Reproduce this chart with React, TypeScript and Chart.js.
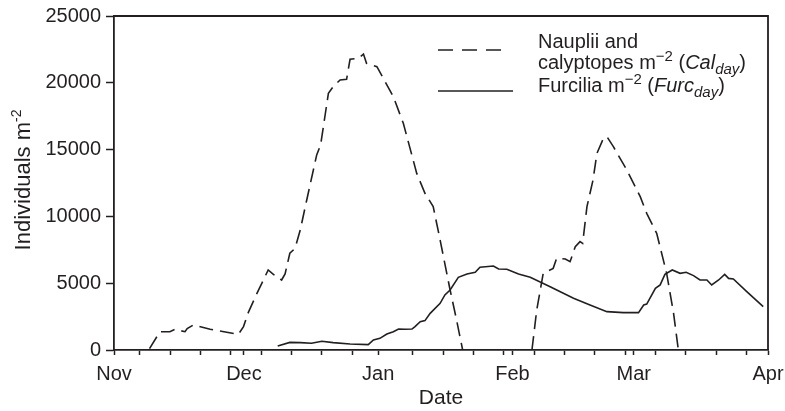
import React, { useEffect, useRef } from "react";
import { Chart, registerables } from "chart.js";

Chart.register(...registerables);

// ---- Data (x = days since 1 Nov) ----
const monthLabels = ["Nov", "Dec", "Jan", "Feb", "Mar", "Apr"];
const monthStartDays = [0, 30, 61, 92, 120, 151];
const weekTickDays = [6, 13, 20, 27, 34, 41, 48, 55, 69, 76, 83, 90, 97, 104, 111, 118, 125, 132, 139, 146];
const yTickValues = [0, 5000, 10000, 15000, 20000, 25000];

const naupliiDays = [
  8.2, 10.6, 12.9, 14.1, 15.3, 16.4, 16.9, 18.3, 22.2, 28.7, 29.9, 31, 32.8, 34.5, 35.6, 36.8, 38.7, 39.5,
  40.6, 41.8, 43, 44.5, 46.8, 47.7, 49.5, 50.6, 52.2, 53.7, 54.5, 56.4, 57.6, 58.3, 60.7, 64.5, 66.8, 69.9,
  71.8, 73.7, 75.3, 77.6, 79.1, 80.5, 88, 96.5, 97.6, 99.1, 99.9, 101.4, 102.2, 104.2, 105.3, 106.5, 107.6,
  108.2, 109.2, 110.6, 111.5, 113, 113.8, 115.3, 118.4, 121.5, 123, 125.3, 127.6, 129.2, 130.3,
];
const naupliiValues = [
  100, 1370, 1370, 1550, 1450, 1370, 1600, 1870, 1550, 1170, 1750, 2800, 4100, 5240, 5990, 5660, 5240, 5700,
  7240, 7610, 8980, 11230, 14600, 15340, 19210, 19710, 20210, 20260, 21760, 21830, 22150, 21460, 21210, 18960, 16970, 13220,
  11730, 10730, 8230, 4490, 2245, 0, null, 0, 2990, 5740, 5860, 6110, 6860, 6810, 6610, 7730, 8110,
  7980, 10730, 12720, 14720, 15840, 15970, 15220, 13470, 11480, 10230, 8730, 5740, 2745, 0,
];

const furciliaDays = [
  37.8, 40.6, 43, 45.6, 48, 50.6, 54.5, 58.7, 59.9, 61.4, 63, 64.5, 65.7, 67.2, 68.8, 69.5, 70.7, 71.8, 73,
  75.3, 76.4, 77.6, 79.5, 81.5, 83.4, 84.5, 87.6, 88.8, 90.7, 93.4, 96.1, 100.7, 106.1, 109.9, 113.8, 117.6,
  121.1, 122.3, 123, 125, 126.1, 127.2, 128.9, 130.7, 132.1, 133.8, 135.3, 136.9, 138, 139.6, 141, 141.9, 143,
  146.1, 149.9,
];
const furciliaValues = [
  300, 570, 550, 500, 650, 550, 450, 400, 750, 870, 1200, 1370, 1570, 1550, 1570, 1750, 2120, 2200, 2745,
  3490, 4120, 4490, 5440, 5690, 5820, 6190, 6290, 6060, 6040, 5690, 5440, 4740, 3870, 3370, 2870, 2800,
  2800, 3370, 3440, 4620, 4870, 5660, 5990, 5740, 5820, 5570, 5240, 5240, 4870, 5240, 5660, 5360, 5320,
  4370, 3240,
];

const INK = "#231f20";
const FONT = '"Liberation Sans", Arial, Helvetica, sans-serif';

type Part = { t: string; italic?: boolean; sup?: boolean; sub?: boolean };

function drawRich(ctx: CanvasRenderingContext2D, x: number, y: number, parts: Part[], size: number, small: number) {
  let cx = x;
  for (const p of parts) {
    const s = p.sup || p.sub ? small : size;
    ctx.font = `${p.italic ? "italic " : ""}${s}px ${FONT}`;
    const dy = p.sup ? -size * 0.42 : p.sub ? size * 0.25 : 0;
    ctx.fillText(p.t, cx, y + dy);
    cx += ctx.measureText(p.t).width;
  }
  return cx - x;
}

function measureRich(ctx: CanvasRenderingContext2D, parts: Part[], size: number, small: number) {
  let w = 0;
  for (const p of parts) {
    const s = p.sup || p.sub ? small : size;
    ctx.font = `${p.italic ? "italic " : ""}${s}px ${FONT}`;
    w += ctx.measureText(p.t).width;
  }
  return w;
}

const decorPlugin = {
  id: "decor",
  afterDraw(chart: any) {
    const ctx: CanvasRenderingContext2D = chart.ctx;
    const a = chart.chartArea;
    ctx.save();
    // frame top & right
    ctx.strokeStyle = INK;
    ctx.lineWidth = 1.8;
    ctx.beginPath();
    ctx.moveTo(a.left, a.top);
    ctx.lineTo(a.right, a.top);
    ctx.lineTo(a.right, a.bottom);
    ctx.stroke();

    // legend
    ctx.lineWidth = 1.6;
    ctx.setLineDash([15, 9]);
    ctx.beginPath();
    ctx.moveTo(438, 50);
    ctx.lineTo(507, 50);
    ctx.stroke();
    ctx.setLineDash([]);
    ctx.beginPath();
    ctx.moveTo(438, 91);
    ctx.lineTo(513, 91);
    ctx.stroke();

    ctx.fillStyle = INK;
    ctx.textBaseline = "alphabetic";
    ctx.textAlign = "left";
    const size = 20;
    const small = 15;
    drawRich(ctx, 538, 48, [{ t: "Nauplii and" }], size, small);
    drawRich(
      ctx,
      538,
      69,
      [
        { t: "calyptopes m" },
        { t: "\u22122", sup: true },
        { t: " (" },
        { t: "Cal", italic: true },
        { t: "day", italic: true, sub: true },
        { t: ")" },
      ],
      size,
      small
    );
    drawRich(
      ctx,
      538,
      92,
      [
        { t: "Furcilia m" },
        { t: "\u22122", sup: true },
        { t: " (" },
        { t: "Furc", italic: true },
        { t: "day", italic: true, sub: true },
        { t: ")" },
      ],
      size,
      small
    );

    // y axis title
    const yParts: Part[] = [{ t: "Individuals m" }, { t: "-2", sup: true }];
    const ysize = 22;
    const w = measureRich(ctx, yParts, ysize, 14);
    ctx.translate(30, 180);
    ctx.rotate(-Math.PI / 2);
    drawRich(ctx, -w / 2, 0, yParts, ysize, 14);
    ctx.restore();
  },
};

export default function App() {
  const ref = useRef<HTMLCanvasElement | null>(null);

  useEffect(() => {
    const canvas = ref.current;
    if (!canvas) return;
    const nauplii = naupliiDays.map((d, i) => ({ x: d, y: naupliiValues[i] }));
    const furcilia = furciliaDays.map((d, i) => ({ x: d, y: furciliaValues[i] }));
    const xTicks = [...monthStartDays, ...weekTickDays].sort((p, q) => p - q);

    const chart = new Chart(canvas, {
      type: "line",
      data: {
        datasets: [
          {
            label: "Nauplii and calyptopes m−2 (Cal_day)",
            data: nauplii as any,
            borderColor: INK,
            borderWidth: 1.6,
            borderDash: [14, 7],
            pointRadius: 0,
            tension: 0,
            spanGaps: false,
            fill: false,
          },
          {
            label: "Furcilia m−2 (Furc_day)",
            data: furcilia as any,
            borderColor: INK,
            borderWidth: 1.6,
            pointRadius: 0,
            tension: 0,
            fill: false,
          },
        ],
      },
      options: {
        animation: false,
        responsive: false,
        maintainAspectRatio: false,
        layout: { padding: { top: 16, right: 17, left: 0, bottom: 0 } },
        plugins: { legend: { display: false }, tooltip: { enabled: false } },
        scales: {
          x: {
            type: "linear",
            min: 0,
            max: 151,
            afterBuildTicks: (s: any) => {
              s.ticks = xTicks.map((v) => ({ value: v }));
            },
            afterFit: (s: any) => {
              s.height = 61;
              s.paddingLeft = 0;
              s.paddingRight = 0;
            },
            ticks: {
              autoSkip: false,
              maxRotation: 0,
              color: INK,
              padding: 7,
              font: { family: FONT, size: 20 },
              callback: (v: any) => {
                const idx = monthStartDays.indexOf(Number(v));
                return idx >= 0 ? monthLabels[idx] : "";
              },
            },
            grid: { drawOnChartArea: false, tickLength: 5, tickColor: INK, tickWidth: 1.5 },
            border: { color: INK, width: 1.8 },
            title: {
              display: true,
              text: "Date",
              color: INK,
              font: { family: FONT, size: 21 },
              padding: { top: 0, bottom: 0 },
            },
          },
          y: {
            type: "linear",
            min: 0,
            max: 25000,
            afterBuildTicks: (s: any) => {
              s.ticks = yTickValues.map((v) => ({ value: v }));
            },
            afterFit: (s: any) => {
              s.width = 114;
              s.paddingTop = 0;
              s.paddingBottom = 0;
            },
            ticks: {
              color: INK,
              padding: 5,
              font: { family: FONT, size: 20 },
              callback: (v: any) => String(v),
            },
            grid: { drawOnChartArea: false, tickLength: 8, tickColor: INK, tickWidth: 1.5 },
            border: { color: INK, width: 1.8 },
            title: { display: false },
          },
        },
      },
      plugins: [decorPlugin],
    });
    return () => chart.destroy();
  }, []);

  return (
    <div style={{ position: "absolute", left: 0, top: 0, width: 785, height: 411, background: "#fff" }}>
      <canvas ref={ref} width={785} height={411} style={{ display: "block", width: 785, height: 411 }} />
    </div>
  );
}
